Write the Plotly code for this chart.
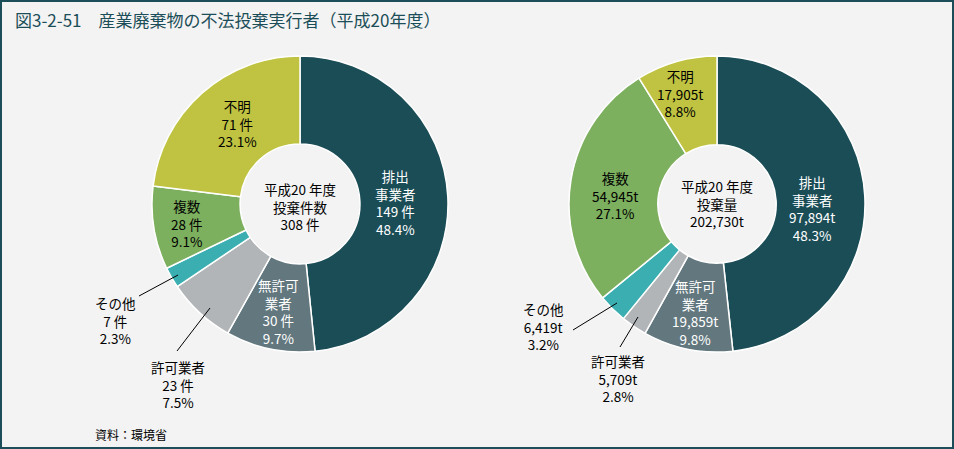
import plotly.graph_objects as go

W, H = 954, 449

# データ（平成20年度 産業廃棄物の不法投棄実行者）
labels = ["排出事業者", "無許可業者", "許可業者", "その他", "複数", "不明"]
label_br = ["排出<br>事業者", "無許可<br>業者", "許可業者", "その他", "複数", "不明"]
count_cases = [149, 30, 23, 7, 28, 71]
tonnes = [97894, 19859, 5709, 6419, 54945, 17905]
total_cases = 308
total_tonnes = 202730

colors = ["#1b4d57", "#62777e", "#b1b5b7", "#3aaeb0", "#7caf5e", "#bfc341"]
txt_colors = ["white", "white", "black", "black", "black", "black"]

FONT = "Noto Sans CJK JP"


def px(x, y):
    return x / W, 1 - y / H


def pie_domain(cx, cy, r):
    return dict(x=[(cx - r) / W, (cx + r) / W], y=[1 - (cy + r) / H, 1 - (cy - r) / H])


def label(x, y, text, size=13.5, color="black", xanchor="center"):
    xx, yy = px(x, y)
    return dict(x=xx, y=yy, xref="paper", yref="paper", showarrow=False,
                xanchor=xanchor, yanchor="middle", text=text,
                font=dict(family=FONT, size=size, color=color))


fig = go.Figure()

fig.add_trace(go.Pie(
    labels=labels, values=count_cases, sort=False, direction="clockwise", rotation=0,
    hole=0.405, marker=dict(colors=colors, line=dict(color="white", width=1.5)),
    textinfo="none", hoverinfo="skip", domain=pie_domain(300, 204, 148), showlegend=False))

fig.add_trace(go.Pie(
    labels=labels, values=tonnes, sort=False, direction="clockwise", rotation=0,
    hole=0.40, marker=dict(colors=colors, line=dict(color="white", width=1.5)),
    textinfo="none", hoverinfo="skip", domain=pie_domain(717, 204, 148), showlegend=False))

# ラベル位置（ピクセル）
left_pos = [(395, 203), (278, 311), (178, 384), (115, 320), (187, 223), (237, 124)]
right_pos = [(812, 209), (695, 312), (618, 378), (543, 326), (615, 195), (680, 93)]

annos = []
for i in range(len(labels)):
    pct = count_cases[i] / total_cases * 100
    annos.append(label(*left_pos[i], f"{label_br[i]}<br>{count_cases[i]} 件<br>{pct:.1f}%",
                       color=txt_colors[i]))
    pct2 = tonnes[i] / total_tonnes * 100
    annos.append(label(*right_pos[i], f"{label_br[i]}<br>{tonnes[i]:,}t<br>{pct2:.1f}%",
                       color=txt_colors[i]))

annos.append(label(300, 206, f"平成20 年度<br>投棄件数<br>{total_cases} 件"))
annos.append(label(717, 204, f"平成20 年度<br>投棄量<br>{total_tonnes:,}t"))

# タイトル・出典
annos.append(label(13, 20, "図3-2-51　産業廃棄物の不法投棄実行者（平成20年度）",
                   size=17, color="#1b4e58", xanchor="left"))
annos.append(label(93, 434, "資料：環境省", size=12, xanchor="left"))

# 引き出し線
leaders = [((139, 296), (178, 275)), ((177, 351), (210, 308)),
           ((573, 330), (617, 303)), ((620, 347), (638, 317))]
shapes = []
for (a, b) in leaders:
    x0, y0 = px(*a)
    x1, y1 = px(*b)
    shapes.append(dict(type="line", xref="paper", yref="paper", x0=x0, y0=y0, x1=x1, y1=y1,
                       line=dict(color="black", width=1)))

# 枠線
shapes.append(dict(type="rect", xref="paper", yref="paper",
                   x0=1 / W, x1=1 - 1 / W, y0=1 / H, y1=1 - 1 / H,
                   line=dict(color="#1b4e58", width=2)))

fig.update_layout(
    width=W, height=H,
    margin=dict(l=0, r=0, t=0, b=0),
    paper_bgcolor="#f3f3f3",
    plot_bgcolor="#f3f3f3",
    annotations=annos,
    shapes=shapes,
)

fig.write_html("out.html", config={"displayModeBar": False},
               post_script="document.body.style.margin='0';document.body.style.overflow='hidden';")
